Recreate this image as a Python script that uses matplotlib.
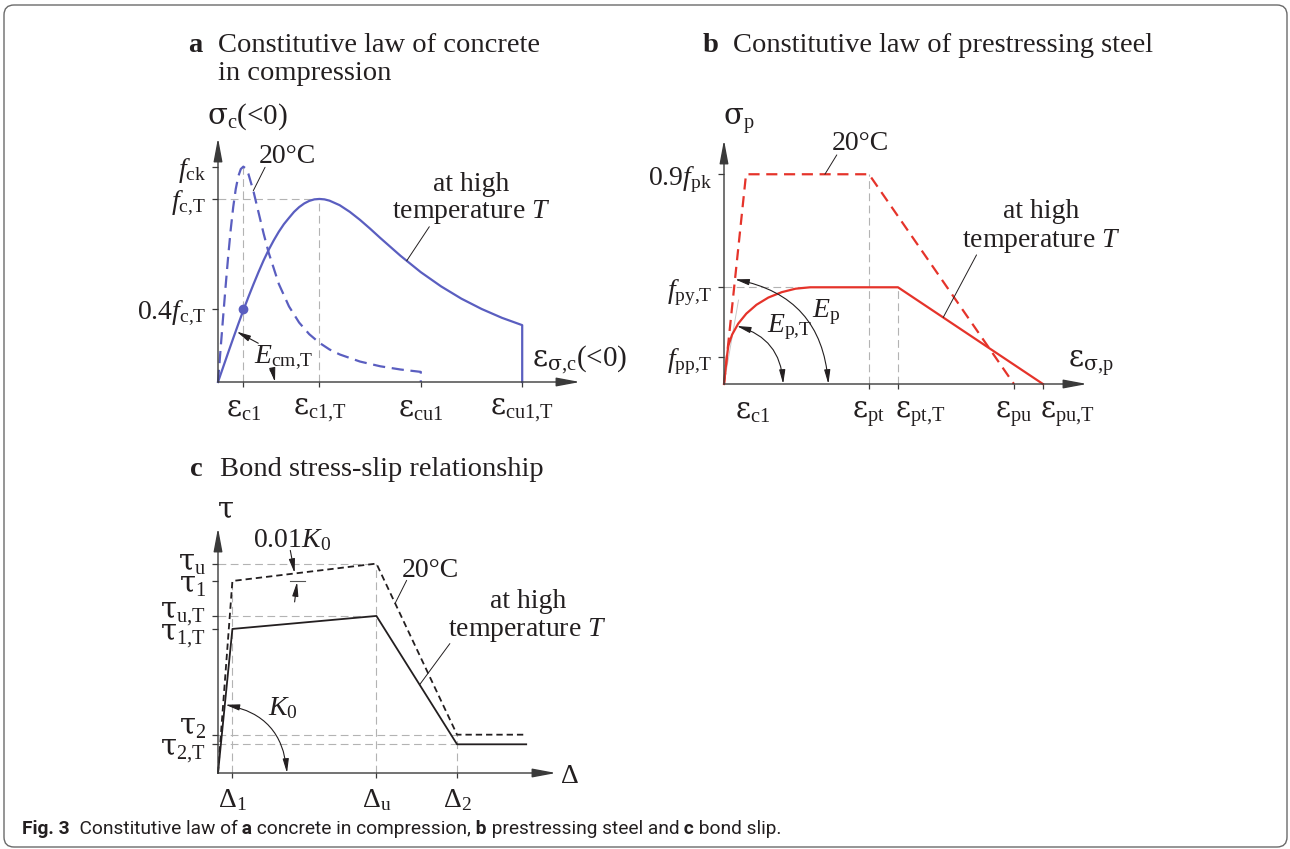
import numpy as np
import matplotlib
matplotlib.use("Agg")
import matplotlib.pyplot as plt
from matplotlib.patches import FancyBboxPatch
from matplotlib.text import Annotation
from matplotlib.transforms import IdentityTransform, ScaledTranslation

W, H = 1290, 849

plt.rcParams.update({
    "font.family": "Liberation Serif",
    "mathtext.fontset": "custom",
    "mathtext.rm": "Liberation Serif",
    "mathtext.it": "Liberation Serif:italic",
    "mathtext.bf": "Liberation Serif:bold",
    "mathtext.sf": "DejaVu Serif",      # greek letters, drawn a bit larger
    "font.size": 20,
})

BLUE = "#5a5ec0"
RED = "#e5332a"
INK = "#231f20"
AXIS = "#3a3a3a"
GUIDE = "#b3b3b3"
FS = 20
FS_GR = 21

# ---- a: concrete in compression (strain in per mille, stress / f_ck)
A_XTICKS = [2.5, 10.0, 20.0, 30.0]
A_XLABELS = [r"$\mathsf{ε}_{\mathrm{c1}}$", r"$\mathsf{ε}_{\mathrm{c1{,}T}}$",
             r"$\mathsf{ε}_{\mathrm{cu1}}$", r"$\mathsf{ε}_{\mathrm{cu1{,}T}}$"]
A_YTICKS = [1.0, 0.85, 0.34]
A_YLABELS = [r"$f_{\mathrm{ck}}$", r"$f_{\mathrm{c{,}T}}$", r"0.4$f_{\mathrm{c{,}T}}$"]
A_EPS_20 = [0, 0.25, 0.5, 0.75, 1.0, 1.25, 1.5, 1.75, 2.0, 2.25, 2.5, 2.75,
            3.0, 3.5, 4.0, 4.5, 5.0, 6.0, 7.0, 8.0, 9.0, 10.0, 11.0, 12.0,
            14.0, 16.0, 18.0, 20.0, 20.0]
A_SIG_20 = [0, 0.150, 0.299, 0.444, 0.581, 0.706, 0.812, 0.896, 0.955, 0.989,
            1.0, 0.991, 0.966, 0.885, 0.787, 0.689, 0.600, 0.455, 0.351, 0.276,
            0.222, 0.182, 0.151, 0.128, 0.095, 0.073, 0.058, 0.047, 0.0]
A_EPS_T = [0, 0.5, 1.0, 1.5, 2.0, 2.5, 3.0, 3.5, 4.0, 4.5, 5.0, 5.5, 6.0, 6.5,
           7.0, 7.5, 8.0, 8.5, 9.0, 9.5, 10.0, 10.5, 11.0, 12.0, 13.0, 14.0,
           15.0, 16.0, 18.0, 20.0, 22.0, 24.0, 26.0, 28.0, 30.0, 30.0]
A_SIG_T = [0, 0.068, 0.136, 0.203, 0.269, 0.333, 0.395, 0.454, 0.511, 0.565,
           0.614, 0.658, 0.698, 0.733, 0.762, 0.790, 0.812, 0.829, 0.841, 0.848,
           0.850, 0.848, 0.842, 0.821, 0.790, 0.753, 0.712, 0.669, 0.586, 0.510,
           0.444, 0.387, 0.339, 0.298, 0.264, 0.0]

# ---- b: prestressing steel (strain, stress / f_pk)
B_XTICKS = [50, 60, 100, 110]
B_XLABELS = [r"$\mathsf{ε}_{\mathrm{pt}}$", r"$\mathsf{ε}_{\mathrm{pt{,}T}}$",
             r"$\mathsf{ε}_{\mathrm{pu}}$", r"$\mathsf{ε}_{\mathrm{pu{,}T}}$"]
B_EPS_C1 = [10]
B_YTICKS = [0.9, 0.415, 0.117]
B_YLABELS = [r"0.9$f_{\mathrm{pk}}$", r"$f_{\mathrm{py{,}T}}$", r"$f_{\mathrm{pp{,}T}}$"]
B_EPS_20 = [0, 7.6, 50, 100]
B_SIG_20 = [0, 0.9, 0.9, 0]
B_EPS_T = [0, 1.0, 1.5, 2.8, 4.9, 7.7, 11.2, 15.3, 19.9, 24.7, 29.7, 60, 110]
B_SIG_T = [0, 0.117, 0.165, 0.212, 0.259, 0.302, 0.340, 0.371, 0.394, 0.409,
           0.415, 0.415, 0]

# ---- c: bond stress-slip (slip, tau / tau_u)
C_XTICKS = [1.0, 11.0, 16.6]
C_XLABELS = [r"$\mathrm{Δ_{1}}$", r"$\mathrm{Δ_{u}}$", r"$\mathrm{Δ_{2}}$"]
C_YTICKS = [1.0, 0.917, 0.75, 0.688, 0.183, 0.137]
C_YLABELS = [r"$\mathsf{τ}_{\mathrm{u}}$", r"$\mathsf{τ}_{\mathrm{1}}$",
             r"$\mathsf{τ}_{\mathrm{u{,}T}}$", r"$\mathsf{τ}_{\mathrm{1{,}T}}$",
             r"$\mathsf{τ}_{\mathrm{2}}$", r"$\mathsf{τ}_{\mathrm{2{,}T}}$"]
C_SLIP = [0, 1.0, 11.0, 16.6, 21.4]
C_TAU_20 = [0, 0.917, 1.0, 0.183, 0.183]
C_TAU_T = [0, 0.688, 0.75, 0.137, 0.137]


def place(fig, x0, y0, x1, y1):
    """axes whose origin is pixel (x0, y0) and arrow tips reach x1 / y1"""
    ax = fig.add_axes([x0 / W, 1 - y0 / H, (x1 - x0) / W, (y0 - y1) / H])
    ax.patch.set_visible(False)
    for s in ax.spines.values():
        s.set_visible(False)
    arrow = dict(arrowstyle="-|>,head_length=0.8,head_width=0.15",
                 mutation_scale=18, lw=1.0, color=AXIS, shrinkA=0, shrinkB=0)
    ax.annotate("", xy=(1, 0), xytext=(0, 0), xycoords="axes fraction",
                arrowprops=arrow, annotation_clip=False)
    ax.annotate("", xy=(0, 1), xytext=(0, 0), xycoords="axes fraction",
                arrowprops=arrow, annotation_clip=False)
    ax.tick_params(which="both", direction="out", length=4.5, width=0.9,
                   color=AXIS, labelsize=FS, labelcolor=INK, pad=4)
    ax.tick_params(axis="x", which="both", length=3.5, pad=7)
    return ax


def guide(ax, xs, ys):
    ax.plot(xs, ys, color=GUIDE, lw=0.8, ls=(0, (7, 4)), zorder=1, clip_on=False)


def leader(ax, start, end):
    ax.annotate("", xy=end, xytext=start,
                arrowprops=dict(arrowstyle="-", lw=0.7, color=INK,
                                shrinkA=0, shrinkB=0), annotation_clip=False)


def arrow(ax, start, end, style="-|>", rad=0.0):
    ax.annotate("", xy=end, xytext=start,
                arrowprops=dict(arrowstyle=f"{style},head_length=0.6,head_width=0.13",
                                mutation_scale=14, lw=0.8, color=INK,
                                connectionstyle=f"arc3,rad={rad}",
                                shrinkA=0, shrinkB=0), annotation_clip=False)


def shift(label, dx=0, dy=0):
    label.set_transform(label.get_transform()
                        + ScaledTranslation(dx / 100, dy / 100, fig.dpi_scale_trans))


def title(fig, x, y, letter, lines):
    fig.text(x / W, 1 - y / H, letter, fontsize=20.5, fontweight="bold",
             color=INK, va="baseline")
    for i, line in enumerate(lines):
        fig.text((x + 30) / W, 1 - (y + 28.5 * i) / H, line, fontsize=20.5,
                 color=INK, va="baseline")


fig = plt.figure(figsize=(W / 100, H / 100), dpi=100)

# ------------------------------------------------------------------ panel a
ax = place(fig, 218, 382, 580, 138)
ax.set_xlim(0, 35.7)
ax.set_ylim(0, 1.133)
ax.set_xticks(A_XTICKS, labels=A_XLABELS)
ax.set_yticks(A_YTICKS, labels=A_YLABELS)
ax.tick_params(axis="x", labelsize=FS_GR)
guide(ax, [A_XTICKS[0]] * 2, [0, A_YTICKS[0]])
guide(ax, [0, A_XTICKS[1]], [A_YTICKS[1]] * 2)
guide(ax, [A_XTICKS[1]] * 2, [0, A_YTICKS[1]])
ax.plot(A_EPS_20, A_SIG_20, color=BLUE, lw=1.6, ls=(0, (5.5, 3)), clip_on=False)
ax.plot(A_EPS_T, A_SIG_T, color=BLUE, lw=1.6, clip_on=False)
ax.plot(A_XTICKS[0], A_YTICKS[2], "o", ms=6, color=BLUE, clip_on=False)
pk = int(np.argmax(A_SIG_20))
ax.text(-1.08, 1.198, r"$\mathsf{σ}_{\mathrm{c}}$(<0)", fontsize=FS_GR, color=INK,
        va="baseline")
ax.text(6.8, 1.017, "20°C", fontsize=FS, color=INK, ha="center", va="baseline")
leader(ax, (4.64, 0.997), (3.48, np.interp(3.48, A_EPS_20[pk:-1], A_SIG_20[pk:-1])))
ax.text(24.95, 0.885, "at high", fontsize=FS, color=INK, ha="center", va="baseline")
ax.text(24.95, 0.760, "temperature $T$", fontsize=FS, color=INK, ha="center",
        va="baseline")
leader(ax, (20.84, 0.721), (18.61, np.interp(18.61, A_EPS_T[:-1], A_SIG_T[:-1])))
ax.text(31.0, 0.071, r"$\mathsf{ε}_{\mathsf{σ}\mathrm{{,}c}}$(<0)", fontsize=FS_GR,
        color=INK, va="baseline")
ax.text(3.58, 0.088, r"$E_{\mathrm{cm{,}T}}$", fontsize=FS, color=INK, va="baseline")
arrow(ax, (3.97, 0.180), (1.84, 0.234))
arrow(ax, (5.13, 0.056), (5.62, 0.0), rad=-0.1)

# ------------------------------------------------------------------ panel b
ax = place(fig, 724, 384, 1087, 140)
ax.set_xlim(0, 125.2)
ax.set_ylim(0, 1.047)
ax.set_xticks(B_XTICKS, labels=B_XLABELS)
ax.set_xticks(B_EPS_C1, labels=[r"$\mathsf{ε}_{\mathrm{c1}}$"], minor=True)
ax.tick_params(axis="x", which="both", labelsize=FS_GR)
ax.tick_params(axis="x", which="minor", length=0, pad=10.5)
ax.set_yticks(B_YTICKS, labels=B_YLABELS)
for lbl in ax.get_xticklabels()[1::2]:
    lbl.set_ha("left")
    shift(lbl, dx=-3)
guide(ax, [0, B_EPS_T[10]], [B_YTICKS[1]] * 2)
guide(ax, [B_XTICKS[0]] * 2, [0, B_YTICKS[0]])
guide(ax, [B_XTICKS[1]] * 2, [0, B_YTICKS[1]])
ax.plot([0, 5.0], [0, 0.36], color="#c8c8c8", lw=0.7, zorder=1)
ax.plot(B_EPS_20, B_SIG_20, color=RED, lw=1.6, ls=(0, (5, 3)), clip_on=False)
ax.plot(B_EPS_T, B_SIG_T, color=RED, lw=1.6, clip_on=False)
ax.text(-0.34, 1.112, r"$\mathsf{σ}_{\mathrm{p}}$", fontsize=FS_GR, color=INK,
        va="baseline")
ax.text(46.9, 1.004, "20°C", fontsize=FS, color=INK, ha="center", va="baseline")
leader(ax, (38.9, 0.983), (34.8, B_SIG_20[1]))
ax.text(109.3, 0.711, "at high", fontsize=FS, color=INK, ha="center", va="baseline")
ax.text(109.3, 0.589, "temperature $T$", fontsize=FS, color=INK, ha="center",
        va="baseline")
leader(ax, (87.1, 0.554), (75.6, np.interp(75.6, B_EPS_T, B_SIG_T)))
ax.text(118.5, 0.073, r"$\mathsf{ε}_{\mathsf{σ}\mathrm{{,}p}}$", fontsize=FS_GR,
        color=INK, va="baseline")
ax.text(30.2, 0.288, r"$E_{\mathrm{p}}$", fontsize=FS, color=INK, va="baseline")
ax.text(14.7, 0.224, r"$E_{\mathrm{p{,}T}}$", fontsize=FS, color=INK, va="baseline")
arrow(ax, (3.8, 0.449), (36.0, 0.0), style="<|-|>", rad=-0.38)
arrow(ax, (4.4, 0.249), (20.4, 0.0), style="<|-|>", rad=-0.35)

# ------------------------------------------------------------------ panel c
ax = place(fig, 218, 773, 556, 528)
ax.set_xlim(0, 23.47)
ax.set_ylim(0, 1.17)
ax.set_xticks(C_XTICKS, labels=C_XLABELS)
ax.set_yticks(C_YTICKS, labels=C_YLABELS)
ax.tick_params(axis="y", labelsize=FS_GR)
for lbl, dy in zip(ax.get_yticklabels(), [3, -2, 7, -2, 10, -2]):
    shift(lbl, dy=dy)
for yv, xv in [(C_YTICKS[0], C_XTICKS[1]), (C_YTICKS[2], C_XTICKS[1]),
               (C_YTICKS[4], C_XTICKS[2]), (C_YTICKS[5], C_XTICKS[2])]:
    guide(ax, [0, xv], [yv, yv])
guide(ax, [C_XTICKS[0]] * 2, [0, C_YTICKS[1]])
guide(ax, [C_XTICKS[1]] * 2, [0, C_YTICKS[0]])
guide(ax, [C_XTICKS[2]] * 2, [0, C_YTICKS[4]])
ax.plot(C_SLIP, C_TAU_20, color=INK, lw=1.3, ls=(0, (3.5, 2.2)), clip_on=False)
ax.plot(C_SLIP, C_TAU_T, color=INK, lw=1.3, clip_on=False)
ax.text(-0.09, 1.216, r"$\mathsf{τ}$", fontsize=FS_GR, color=INK, va="baseline")
ax.text(23.75, -0.046, r"$\mathrm{Δ}$", fontsize=FS, color=INK, va="baseline")
ax.text(2.45, 1.08, r"0.01$K_{\mathrm{0}}$", fontsize=FS, color=INK, va="baseline")
arrow(ax, (5.02, 1.063), (5.32, 0.955))
ax.plot([4.97, 6.06], [C_YTICKS[1]] * 2, color="#555555", lw=0.8)
arrow(ax, (5.32, 0.817), (5.49, 0.912))
ax.text(14.72, 0.937, "20°C", fontsize=FS, color=INK, ha="center", va="baseline")
leader(ax, (13.1, 0.92), (12.3, np.interp(12.3, C_SLIP[2:4], C_TAU_20[2:4])))
ax.text(21.5, 0.787, "at high", fontsize=FS, color=INK, ha="center", va="baseline")
ax.text(21.5, 0.654, "temperature $T$", fontsize=FS, color=INK, ha="center",
        va="baseline")
leader(ax, (16.1, 0.618), (14.0, np.interp(14.0, C_SLIP[2:4], C_TAU_T[2:4])))
ax.text(3.49, 0.277, r"$K_{\mathrm{0}}$", fontsize=FS, color=INK, va="baseline")
arrow(ax, (0.51, 0.326), (4.79, 0.0), style="<|-|>", rad=-0.38)

# ------------------------------------------------------------------ titles
title(fig, 188, 52, "a", ["Constitutive law of concrete", "in compression"])
title(fig, 703, 52, "b", ["Constitutive law of prestressing steel"])
title(fig, 190, 476, "c", ["Bond stress-slip relationship"])

# ------------------------------------------------------------------ caption
pieces = [("Fig. 3", "bold"), ("  Constitutive law of", "normal"), (" a", "bold"),
          (" concrete in compression,", "normal"), (" b", "bold"),
          (" prestressing steel and", "normal"), (" c", "bold"),
          (" bond slip.", "normal")]
prev = fig.text(22 / W, 1 - 834 / H, pieces[0][0], family="Roboto",
                fontweight="bold", fontsize=13.8, color=INK, va="baseline")
for txt, weight in pieces[1:]:
    prev = fig.add_artist(Annotation(txt, xy=(1, 0), xycoords=prev, va="bottom",
                                     ha="left", family="Roboto", fontweight=weight,
                                     fontsize=13.8, color=INK))

fig.add_artist(FancyBboxPatch((4, 2), 1283, 842,
                              boxstyle="round,pad=0,rounding_size=10",
                              transform=IdentityTransform(), fill=False,
                              ec="#6a6a6a", lw=1.0))

fig.savefig("out.png", dpi=100)
